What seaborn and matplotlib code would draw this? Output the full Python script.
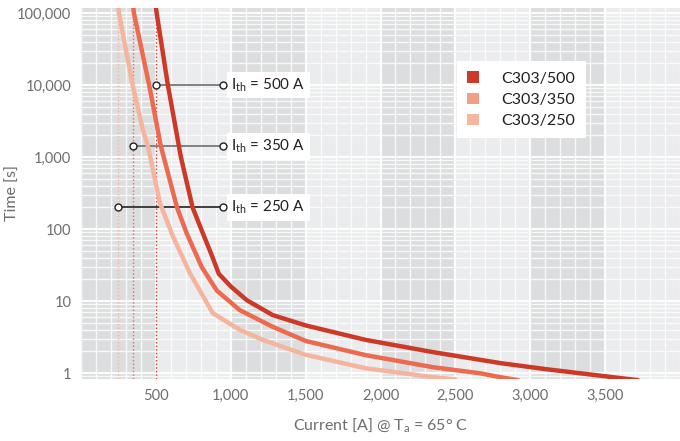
import numpy as np
import pandas as pd
import matplotlib.pyplot as plt
import matplotlib.ticker as mticker
from matplotlib.patches import Patch
import seaborn as sns

# series (current in A, time in s)
series = ["C303/500", "C303/350", "C303/250"]
line_colors = ["#cc3a27", "#ed6a4e", "#f5b49c"]
legend_colors = ["#cc3b28", "#f2a084", "#f6b6a0"]

current_500 = [495, 505, 580, 667, 745, 813, 870, 920, 1000, 1107, 1280, 1500,
               1900, 2350, 2800, 3100, 3550, 3720]
time_500 = [150000, 100000, 10000, 1000, 200, 88, 45, 24, 16, 10.3, 6.4, 4.6,
            2.9, 1.96, 1.38, 1.14, 0.88, 0.8]

current_350 = [345, 353, 455, 533, 640, 705, 807, 907, 1060, 1280, 1500, 1900,
               2350, 2660, 2800, 2920]
time_350 = [150000, 100000, 10000, 1420, 203, 88, 29.5, 14, 7.5, 4.4, 2.8,
            1.78, 1.21, 1.0, 0.88, 0.8]

current_250 = [245, 253, 345, 413, 447, 527, 613, 727, 880, 1060, 1213, 1500,
               1900, 2350, 2500]
time_250 = [150000, 100000, 10000, 2370, 1420, 230, 80, 24.5, 6.8, 4.0, 2.9,
            1.8, 1.17, 0.88, 0.82]

# rated currents and their labels
ith = [500, 350, 250]
ith_time = [10000, 1400, 200]
ith_label_x = 947
ith_line_colors = ["#6d6e71", "#6d6e71", "#231f20"]

x_ticks = [500, 1000, 1500, 2000, 2500, 3000, 3500]
y_ticks = [1, 10, 100, 1000, 10000, 100000]
dark_bands = [(0, 500), (1000, 1500), (2000, 2500), (3000, 3500)]

df = pd.concat([
    pd.DataFrame({"current": current_500, "time": time_500, "fuse": series[0]}),
    pd.DataFrame({"current": current_350, "time": time_350, "fuse": series[1]}),
    pd.DataFrame({"current": current_250, "time": time_250, "fuse": series[2]}),
])

sns.set_theme(style="white")
plt.rcParams["font.family"] = ["Lato", "DejaVu Sans"]
plt.rcParams["mathtext.default"] = "regular"

fig = plt.figure(figsize=(6.8, 4.41), dpi=100)
ax = fig.add_axes([81 / 680, 62 / 441, 599 / 680, 371 / 441])
ax.set_facecolor("#ebecee")

for lo, hi in dark_bands:
    ax.axvspan(lo, hi, color="#dcdddf", lw=0, zorder=0.2)

sns.lineplot(data=df, x="current", y="time", hue="fuse", palette=line_colors,
             hue_order=series, estimator=None, sort=False, lw=3.2,
             legend=False, ax=ax, zorder=3)

ax.set_yscale("log")
ax.set_xlim(0, 4000)
ax.set_ylim(0.83, 117000)

ax.set_xticks(x_ticks)
ax.xaxis.set_minor_locator(mticker.MultipleLocator(100))
ax.set_yticks(y_ticks)
ax.yaxis.set_minor_locator(mticker.LogLocator(base=10, subs=np.arange(2, 10)))
ax.yaxis.set_minor_formatter(mticker.NullFormatter())
fmt = mticker.FuncFormatter(lambda v, p: f"{int(round(v)):,}")
ax.xaxis.set_major_formatter(fmt)
ax.yaxis.set_major_formatter(fmt)

ax.set_axisbelow(True)
ax.grid(which="major", color="white", lw=1.6, alpha=0.9)
ax.grid(which="minor", color="white", lw=1.0, alpha=0.8)
ax.tick_params(which="both", length=0, labelcolor="#6d6e71", labelsize=10.5,
               pad=7)
for s in ax.spines.values():
    s.set_visible(False)

for cur, col in zip(ith, line_colors):
    ax.axvline(cur, color=col, lw=1, ls=(0, (1, 1.6)), zorder=2)

for cur, t, lc in zip(ith, ith_time, ith_line_colors):
    ax.plot([cur, ith_label_x], [t, t], color=lc, lw=1.2, zorder=2.5)
    ax.plot([cur, ith_label_x], [t, t], ls="none", marker="o", ms=5,
            mfc="white", mec="#231f20", mew=1, zorder=5)
    ax.text(1005, t, f"I$_{{th}}$ = {cur} A", ha="left", va="center",
            fontsize=11, color="#231f20", zorder=4,
            bbox=dict(boxstyle="square,pad=0.3", fc="white", ec="none"))

handles = [Patch(facecolor=c, edgecolor="none") for c in legend_colors]
leg = ax.legend(handles, series, loc="upper left",
                bbox_to_anchor=((457 - 81) / 599, (379 - 61) / 371),
                borderaxespad=0, frameon=True, fancybox=False, framealpha=1,
                facecolor="white", edgecolor="none", fontsize=11.5,
                handlelength=0.75, handleheight=0.75, handletextpad=1.4,
                borderpad=0.65, labelspacing=0.42)
for txt in leg.get_texts():
    txt.set_color("#231f20")
leg.set_zorder(6)

ax.set_xlabel("Current [A] @ T$_a$ = 65° C", color="#6d6e71", fontsize=11.5,
              labelpad=10)
ax.set_ylabel("")
fig.text(13 / 680, 1 - 193 / 441, "Time [s]", rotation=90, ha="center",
         va="center", color="#6d6e71", fontsize=11.5)

fig.savefig("out.png", dpi=100)
